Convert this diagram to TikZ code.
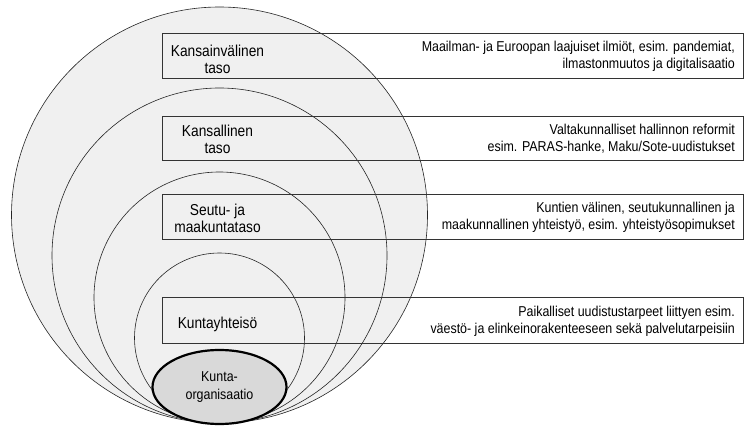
\documentclass[tikz,border=0pt]{standalone}
\usepackage{fontspec}
\setmainfont{Liberation Sans}
\newfontfamily\narrowsans[FakeStretch=0.87]{Liberation Sans}
\usetikzlibrary{shapes.geometric}
\definecolor{ringfill}{gray}{0.94}
\definecolor{corefill}{gray}{0.85}
\definecolor{boxline}{gray}{0.2}
\begin{document}
\begin{tikzpicture}[x=1pt,y=-1pt,
  ring/.style={circle,draw=black!85,line width=0.6pt,fill=ringfill,inner sep=0pt,outer sep=0pt},
  levelbox/.style={draw=boxline,line width=0.9pt,minimum width=581pt,inner sep=0pt,outer sep=0pt},
  lefttext/.style={align=center,font=\narrowsans\fontsize{15.8}{17}\selectfont,inner sep=0pt},
  righttext/.style={align=right,font=\narrowsans\fontsize{14.3}{17}\selectfont,inner sep=0pt,anchor=east},
  core/.style={ellipse,draw=black,line width=2.2pt,fill=corefill,minimum width=134pt,minimum height=74pt,inner sep=0pt,align=center,font=\narrowsans\fontsize{14.3}{18}\selectfont}]
\useasboundingbox (0,0) rectangle (744,427);
% rings, tangent at the bottom
\node[ring,minimum size=416pt] (c1) at (219.5,215) {};
\node[ring,minimum size=335pt] (c2) at (219.5,255.5) {};
\node[ring,minimum size=251pt] (c3) at (219.5,297.5) {};
\node[ring,minimum size=170pt] (c4) at (219.5,338) {};
% core
\node[core] (core) at (219.5,387) {Kunta-\\organisaatio};
% boxes
\node[levelbox,minimum height=45pt] (b1) at (452.5,55.5) {};
\node[levelbox,minimum height=44pt] (b2) at (452.5,138) {};
\node[levelbox,minimum height=45pt] (b3) at (452.5,216.5) {};
\node[levelbox,minimum height=46pt] (b4) at (452.5,320) {};
% left labels
\node[lefttext] (l1) at (217.5,59) {Kansainvälinen\\taso};
\node[lefttext] (l2) at (217.5,139.5) {Kansallinen\\taso};
\node[lefttext] (l3) at (217.5,218) {Seutu- ja\\maakuntataso};
\node[lefttext] (l4) at (217.5,324) {Kuntayhteisö};
% right texts
\node[righttext] (r1) at ([xshift=-8pt,yshift=-1pt]b1.east) {Maailman- ja Euroopan laajuiset ilmiöt, esim. pandemiat,\\ilmastonmuutos ja digitalisaatio};
\node[righttext] (r2) at ([xshift=-8pt,yshift=-1pt]b2.east) {Valtakunnalliset hallinnon reformit\\esim. PARAS-hanke, Maku/Sote-uudistukset};
\node[righttext] (r3) at ([xshift=-8pt,yshift=-1pt]b3.east) {Kuntien välinen, seutukunnallinen ja\\maakunnallinen yhteistyö, esim. yhteistyösopimukset};
\node[righttext] (r4) at ([xshift=-8pt,yshift=-1pt]b4.east) {Paikalliset uudistustarpeet liittyen esim.\\väestö- ja elinkeinorakenteeseen sekä palvelutarpeisiin};
\end{tikzpicture}
\end{document}
